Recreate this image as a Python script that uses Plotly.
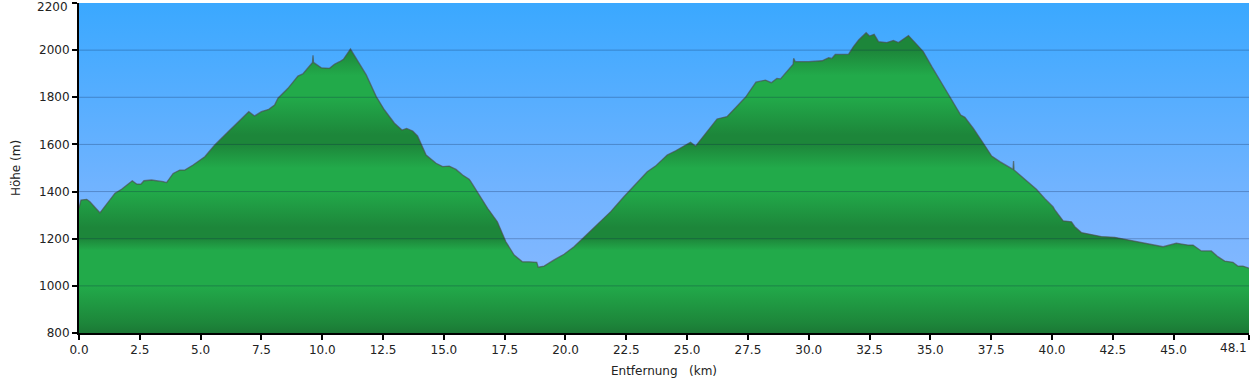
import plotly.graph_objects as go

# Elevation profile (distance km, elevation m)
distance_km = [
    0.00, 0.08, 0.32, 0.45, 0.86, 1.48, 1.75, 2.19, 2.37, 2.55, 2.67, 2.98, 3.46, 3.60, 3.87,
    4.14, 4.35, 4.69, 5.17, 5.58, 6.13, 6.68, 6.98, 7.22, 7.50, 7.80, 8.04, 8.18, 8.59, 9.00,
    9.20, 9.60, 9.62, 9.64, 9.96, 10.30, 10.50, 10.71, 10.87, 11.16, 11.46, 11.81, 12.22, 12.56,
    12.97, 13.28, 13.47, 13.72, 13.92, 14.27, 14.68, 14.95, 15.22, 15.50, 15.77, 16.04, 16.11,
    16.45, 16.80, 17.20, 17.55, 17.89, 18.23, 18.51, 18.82, 18.88, 19.12, 19.53, 19.94, 20.35,
    20.76, 21.31, 21.86, 22.40, 22.95, 23.36, 23.70, 24.05, 24.18, 24.53, 24.87, 25.14, 25.35,
    25.76, 26.23, 26.64, 27.06, 27.40, 27.83, 28.22, 28.46, 28.69, 28.84, 29.36, 29.38, 29.45,
    30.00, 30.55, 30.82, 30.95, 31.09, 31.64, 31.84, 32.05, 32.36, 32.50, 32.69, 32.87, 33.21,
    33.48, 33.69, 34.10, 34.37, 34.71, 35.06, 35.47, 35.88, 36.25, 36.42, 36.77, 37.18, 37.52,
    37.86, 38.20, 38.40, 38.42, 38.44, 38.68, 39.02, 39.36, 39.70, 40.05, 40.12, 40.46, 40.80,
    40.94, 41.21, 41.62, 42.03, 42.58, 43.13, 43.67, 44.22, 44.57, 45.11, 45.59, 45.80, 46.14,
    46.55, 46.82, 47.10, 47.44, 47.64, 47.85, 48.10,
]
elevation_m = [
    1330, 1364, 1367, 1357, 1310, 1393, 1410, 1446, 1432, 1432, 1446, 1449, 1442, 1438, 1477,
    1491, 1491, 1513, 1548, 1598, 1654, 1707, 1739, 1721, 1739, 1749, 1767, 1796, 1838, 1890,
    1899, 1948, 1978, 1948, 1925, 1923, 1940, 1951, 1961, 2005, 1955, 1895, 1803, 1746,
    1690, 1661, 1668, 1657, 1636, 1555, 1520, 1506, 1508, 1494, 1470, 1452, 1442,
    1385, 1329, 1272, 1187, 1131, 1102, 1102, 1100, 1079, 1084, 1110, 1134, 1166,
    1206, 1258, 1315, 1378, 1438, 1484, 1508, 1541, 1555, 1573, 1593, 1609, 1593,
    1647, 1708, 1718, 1763, 1800, 1864, 1873, 1862, 1880, 1878, 1940, 1965, 1951,
    1951, 1955, 1968, 1965, 1982, 1983, 2015, 2043, 2074, 2060, 2067, 2036, 2032,
    2041, 2032, 2062, 2032, 1994, 1930, 1859, 1788, 1725, 1715, 1668, 1605, 1551,
    1527, 1506, 1494, 1530, 1492, 1470, 1438, 1410, 1371, 1335, 1322, 1276, 1272,
    1251, 1226, 1219, 1209, 1206, 1195, 1185, 1176, 1166, 1181, 1173, 1173, 1148,
    1148, 1124, 1105, 1100, 1084, 1084, 1075,
]

x_range = [0.0, 48.1]
y_range = [800, 2200]
x_tickvals = [0.0, 2.5, 5.0, 7.5, 10.0, 12.5, 15.0, 17.5, 20.0, 22.5, 25.0, 27.5, 30.0,
              32.5, 35.0, 37.5, 40.0, 42.5, 45.0, 48.1]
y_tickvals = [800, 1000, 1200, 1400, 1600, 1800, 2000, 2200]
grid_vals = [1000, 1200, 1400, 1600, 1800, 2000]

FONT = "DejaVu Sans, Verdana, sans-serif"
TXT = "#222222"

sky_scale = [
    [0.0, "rgb(142,186,255)"],
    [0.45, "rgb(112,179,255)"],
    [1.0, "rgb(58,168,255)"],
]

light = "rgb(34,170,74)"
dark = "rgb(29,134,58)"
darker = "rgb(27,120,53)"
green_scale = [
    [0.00, darker],
    [0.03, dark],
    [0.143, light],
    [0.25, light],
    [0.286, dark],
    [0.32, dark],
    [0.43, light],
    [0.50, light],
    [0.571, dark],
    [0.60, dark],
    [0.714, light],
    [0.78, light],
    [0.857, dark],
    [1.0, dark],
]

fig = go.Figure()

# sky background spanning the axis range
fig.add_trace(go.Scatter(
    x=x_range, y=[y_range[1], y_range[1]],
    mode="lines", line=dict(width=0),
    fill="tozeroy",
    fillgradient=dict(type="vertical", colorscale=sky_scale,
                      start=y_range[0], stop=y_range[1]),
    hoverinfo="skip", showlegend=False,
))

# terrain profile
fig.add_trace(go.Scatter(
    x=distance_km, y=elevation_m,
    mode="lines", line=dict(color="rgba(75,75,75,0.65)", width=1.3),
    fill="tozeroy",
    fillgradient=dict(type="vertical", colorscale=green_scale,
                      start=y_range[0], stop=y_range[1]),
    hoverinfo="x+y", showlegend=False,
))

shapes = []
for g in grid_vals:
    shapes.append(dict(type="line", xref="x domain", yref="y", x0=0, x1=1, y0=g, y1=g,
                       line=dict(color="rgba(10,30,70,0.28)", width=1), layer="above"))

# edge tick labels drawn clamped inside the page (as in the reference)
x_ticktext = [f"{v:.1f}" for v in x_tickvals]
y_ticktext = [str(v) for v in y_tickvals]
annotations = [
    dict(text=x_ticktext[-1], xref="x", yref="paper", x=x_tickvals[-1], y=0,
         xanchor="right", yanchor="middle", yshift=-15, showarrow=False,
         font=dict(family=FONT, size=12, color=TXT)),
    dict(text=y_ticktext[-1], xref="paper", yref="y", x=0, y=y_tickvals[-1],
         xanchor="right", yanchor="middle", xshift=-9, yshift=-4, showarrow=False,
         font=dict(family=FONT, size=12, color=TXT)),
]
x_ticktext[-1] = ""
y_ticktext[-1] = ""

fig.update_layout(
    width=1250, height=383,
    margin=dict(l=79, r=1, t=3, b=50, autoexpand=False),
    paper_bgcolor="white",
    plot_bgcolor="rgb(100,176,255)",
    font=dict(family=FONT, size=12, color=TXT),
    shapes=shapes,
    annotations=annotations,
    xaxis=dict(
        range=x_range, tickvals=x_tickvals, ticktext=x_ticktext,
        showgrid=False, zeroline=False, automargin=False,
        showline=True, linecolor="black", linewidth=2,
        ticks="outside", ticklen=5, tickwidth=2, tickcolor="black",
        tickfont=dict(family=FONT, size=12, color=TXT),
        title=dict(text="Entfernung\u00a0\u00a0\u00a0(km)", font=dict(family=FONT, size=12, color=TXT),
                   standoff=10),
        layer="above traces",
    ),
    yaxis=dict(
        range=y_range, tickvals=y_tickvals, ticktext=y_ticktext,
        showgrid=False, zeroline=False, automargin=False,
        showline=True, linecolor="black", linewidth=2,
        ticks="outside", ticklen=5, tickwidth=2, tickcolor="black",
        tickfont=dict(family=FONT, size=12, color=TXT),
        title=dict(text="Höhe (m)", font=dict(family=FONT, size=12, color=TXT),
                   standoff=16),
        layer="above traces",
    ),
)

fig.write_html("out.html", config={"displayModeBar": False},
               post_script="document.body.style.margin='0';document.body.style.overflow='hidden';")
